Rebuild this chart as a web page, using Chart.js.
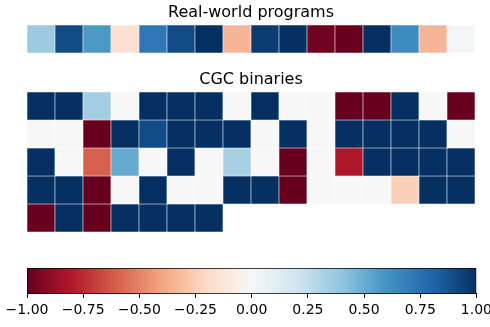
<!DOCTYPE html>
<html>
<head>
<meta charset="utf-8">
<script src="https://cdn.jsdelivr.net/npm/chart.js@4/dist/chart.umd.min.js"></script>
<style>
  body { margin: 0; background: #fff; width: 490px; height: 327px; overflow: hidden; position: relative; }
  .box { position: absolute; left: 0; width: 490px; }
</style>
</head>
<body>
<div class="box" style="top:0;height:53px"><canvas id="cTop"></canvas></div>
<div class="box" style="top:60px;height:172px"><canvas id="cCgc"></canvas></div>
<div class="box" style="top:268px;height:59px;width:496px"><canvas id="cBar"></canvas></div>
<script>
// data
const columns = ["0","1","2","3","4","5","6","7","8","9","10","11","12","13","14","15"];
const realWorld = [0.37, 0.9, 0.575, -0.16, 0.72, 0.9, 1.0, -0.34, 0.96, 1.0, -0.98, -1.0, 1.0, 0.64, -0.34, 0.02];
const cgcRow1 = [1, 1, 0.35, 0, 1, 1, 1, 0, 1, 0, 0, -1, -1, 1, 0, -1];
const cgcRow2 = [0, 0, -1, 1, 0.9, 1, 1, 1, 0, 1, 0, 1, 1, 1, 1, 0];
const cgcRow3 = [1, 0, -0.6, 0.51, 0, 1, 0, 0.33, 0, -1, 0, -0.81, 1, 1, 1, 1];
const cgcRow4 = [1, 1, -1, 0, 1, 0, 0, 1, 1, -1, 0, 0, 0, -0.24, 1, 1];
const cgcRow5 = [-1, 1, -1, 1, 1, 1, 1];
const cbarTicks = [-1, -0.75, -0.5, -0.25, 0, 0.25, 0.5, 0.75, 1];

// RdBu colormap
const rdbu = ['#67001f','#b2182b','#d6604d','#f4a582','#fddbc7','#f7f7f7','#d1e5f0','#92c5de','#4393c3','#2166ac','#053061'];
function hexRgb(h) { return [1,3,5].map(i => parseInt(h.substr(i,2),16)); }
function cmap(v) {
    let t = (Math.max(-1, Math.min(1, v)) + 1) / 2 * 10;
    let i = Math.min(9, Math.floor(t));
    let f = t - i;
    let a = hexRgb(rdbu[i]), b = hexRgb(rdbu[i+1]);
    let c = a.map((x, k) => Math.round(x + (b[k] - x) * f));
    return `rgb(${c[0]},${c[1]},${c[2]})`;
}

Chart.defaults.font.family = "'DejaVu Sans', sans-serif";
Chart.defaults.color = '#000';
Chart.defaults.animation = false;

function rowDataset(row, r) {
    return {
        data: row.map(() => [r, r + 1]),
        backgroundColor: row.map(cmap),
        borderColor: '#fff',
        borderWidth: 0.6,
        borderSkipped: false,
        grouped: false,
        barPercentage: 1,
        categoryPercentage: 1
    };
}

function heatOptions(title, rows, padTop, padBottom) {
    return {
        responsive: true, maintainAspectRatio: false,
        layout: { padding: { left: 27, right: 15, top: 0, bottom: 0 } },
        plugins: {
            legend: { display: false },
            tooltip: { enabled: false },
            title: { display: true, text: title, font: { size: 16, weight: 'normal' }, color: '#000', padding: { top: padTop, bottom: padBottom } }
        },
        scales: {
            x: { display: false },
            y: { display: false, min: 0, max: rows, reverse: true }
        }
    };
}

new Chart(document.getElementById('cTop'), {
    type: 'bar',
    data: { labels: columns, datasets: [rowDataset(realWorld, 0)] },
    options: heatOptions('Real-world programs', 1, 3, 2.8)
});

const cgcRows = [cgcRow1, cgcRow2, cgcRow3, cgcRow4, cgcRow5];
new Chart(document.getElementById('cCgc'), {
    type: 'bar',
    data: { labels: columns, datasets: cgcRows.map((row, r) => rowDataset(row, r)) },
    options: heatOptions('CGC binaries', 5, 10, 2.8)
});

// colorbar
new Chart(document.getElementById('cBar'), {
    type: 'bar',
    data: {
        labels: ['cbar'],
        datasets: [{
            data: [[cbarTicks[0], cbarTicks[cbarTicks.length - 1]]],
            backgroundColor: function(ctx) {
                const area = ctx.chart.chartArea;
                if (!area) return '#fff';
                const g = ctx.chart.ctx.createLinearGradient(area.left, 0, area.right, 0);
                rdbu.forEach((c, i) => g.addColorStop(i / 10, c));
                return g;
            },
            borderColor: '#000',
            borderWidth: 1,
            borderSkipped: false,
            barPercentage: 1,
            categoryPercentage: 1
        }]
    },
    options: {
        indexAxis: 'y',
        responsive: true, maintainAspectRatio: false,
        layout: { padding: { left: 27, right: 15, top: 0, bottom: 7.2 } },
        plugins: { legend: { display: false }, tooltip: { enabled: false } },
        scales: {
            x: {
                type: 'linear', min: -1, max: 1,
                afterBuildTicks: s => { s.ticks = cbarTicks.map(v => ({ value: v })); },
                grid: { drawOnChartArea: false, drawTicks: true, tickLength: 4, color: '#000' },
                border: { display: true, color: '#000' },
                ticks: {
                    padding: 4, maxRotation: 0, autoSkip: false,
                    font: { size: 14 },
                    callback: v => (v < 0 ? '\u2212' : '') + Math.abs(v).toFixed(2)
                }
            },
            y: { display: false }
        }
    }
});
</script>
</body>
</html>
